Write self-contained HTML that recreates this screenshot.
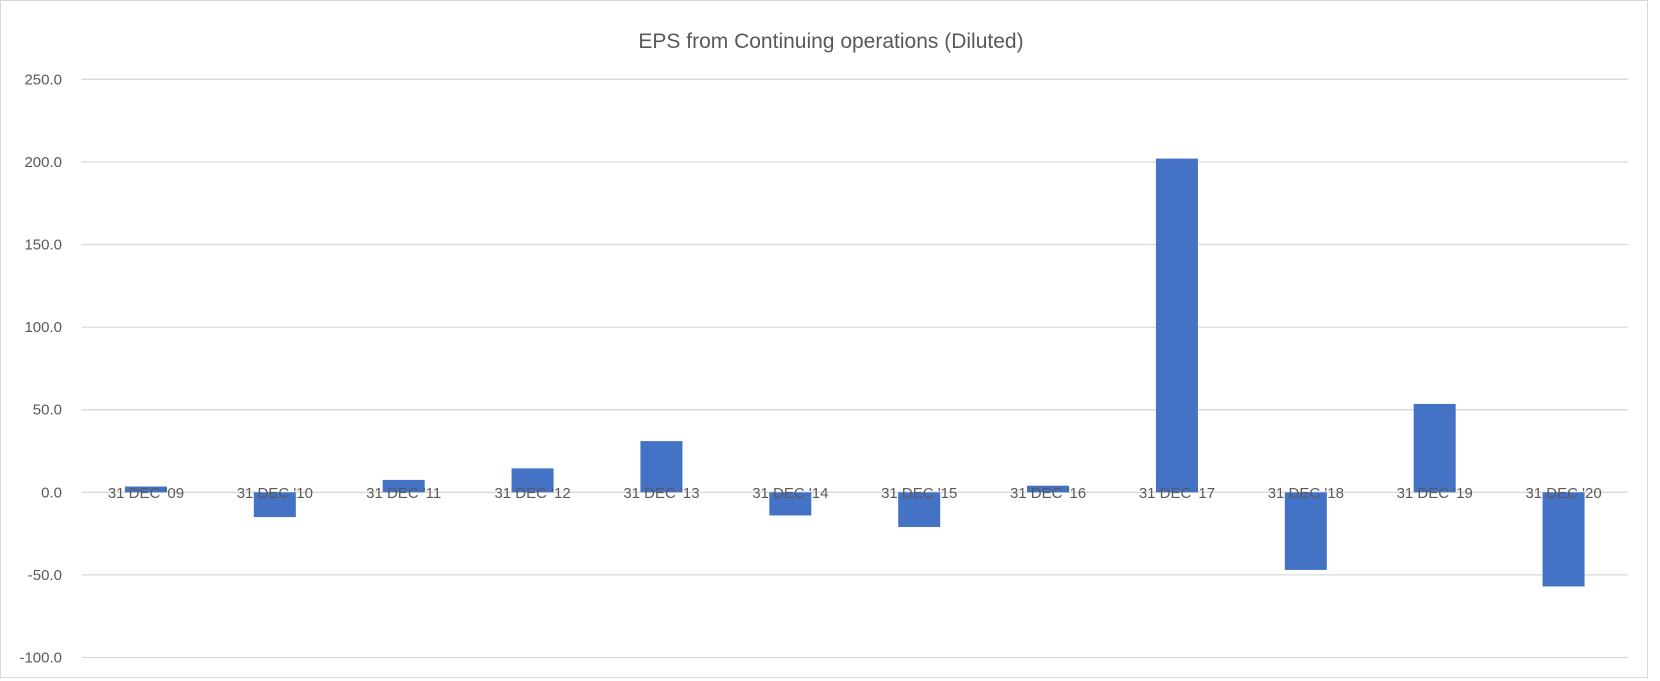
<!DOCTYPE html>
<html><head><meta charset="utf-8"><style>
body{margin:0;background:#fff;}
svg{display:block;font-family:"Liberation Sans",sans-serif;}
</style></head><body>
<svg id="chart" width="1660" height="681" viewBox="0 0 1660 681">
<rect x="0.5" y="0.5" width="1647" height="677" fill="#fff" stroke="#d9d9d9"/>
<text x="831" y="48" text-anchor="middle" font-size="21" fill="#595959">EPS from Continuing operations (Diluted)</text>
<g id="grid"></g><g id="bars"></g><g id="labels"></g>
</svg>
<script>
const categories=["31 DEC '09","31 DEC '10","31 DEC '11","31 DEC '12","31 DEC '13","31 DEC '14","31 DEC '15","31 DEC '16","31 DEC '17","31 DEC '18","31 DEC '19","31 DEC '20"];
const values=[3.5,-15,7.5,14.5,31,-14,-21,4,202,-47,53.5,-57];
const ticks=[250,200,150,100,50,0,-50,-100];
const tickLabels=["250.0","200.0","150.0","100.0","50.0","0.0","-50.0","-100.0"];
const NS="http://www.w3.org/2000/svg";
const L=81.5,R=1628,y0=492.3,pxPer=82.6/50;
const y=v=>y0-v*pxPer;
const band=(R-L)/categories.length;
const x=i=>L+band*(i+0.5);
const grid=document.getElementById('grid'),bars=document.getElementById('bars'),labels=document.getElementById('labels');
ticks.forEach((t,i)=>{
 const ln=document.createElementNS(NS,'line');
 
 
 ln.setAttribute('x1',L);ln.setAttribute('x2',R);ln.setAttribute('y1',y(t));ln.setAttribute('y2',y(t));
 ln.setAttribute('stroke','#d9d9d9');ln.setAttribute('stroke-width','1.3');
 grid.appendChild(ln);
 const tx=document.createElementNS(NS,'text');
 
 
 tx.setAttribute('x',62);tx.setAttribute('y',y(t)+5);tx.setAttribute('text-anchor','end');
 tx.setAttribute('font-size','15');tx.setAttribute('fill','#595959');
 tx.textContent=tickLabels[i];grid.appendChild(tx);
});
const bw=42;
values.forEach((v,i)=>{
 const r=document.createElementNS(NS,'rect');
 
 
 r.setAttribute('x',x(i)-bw/2);r.setAttribute('width',bw);
 r.setAttribute('y',Math.min(y(v),y0));r.setAttribute('height',Math.abs(y(v)-y0));
 r.setAttribute('fill','#4472c4');bars.appendChild(r);
 const tx=document.createElementNS(NS,'text');
 
 
 tx.setAttribute('x',x(i));tx.setAttribute('y',498);tx.setAttribute('text-anchor','middle');
 tx.setAttribute('font-size','15');tx.setAttribute('fill','#595959');
 tx.textContent=categories[i];labels.appendChild(tx);
});
</script>
</body></html>
